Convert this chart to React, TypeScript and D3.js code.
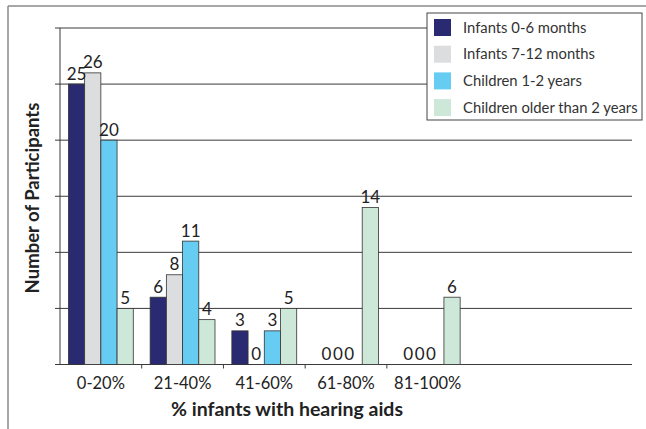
import React from "react";
import * as d3 from "d3";

const categories = ["0-20%", "21-40%", "41-60%", "61-80%", "81-100%", "", ""];
const seriesNames = ["Infants 0-6 months", "Infants 7-12 months", "Children 1-2 years", "Children older than 2 years"];
const infants0to6 = [25, 6, 3, 0, 0];
const infants7to12 = [26, 8, 0, 0, 0];
const children1to2 = [20, 11, 3, 0, 0];
const childrenOlder = [5, 4, 5, 14, 6];
const yTicks = [0, 5, 10, 15, 20, 25, 30];
const colors = ["#2a2a72", "#dcdddf", "#66ccf2", "#cde8d9"];

const W = 646;
const H = 429;
const FONT = "Lato, 'Open Sans', sans-serif";

export default function App() {
  const series = [infants0to6, infants7to12, children1to2, childrenOlder];
  const x0 = d3.scaleBand<string>().domain(categories.map((c, i) => String(i))).range([60, 632]).paddingInner(0).paddingOuter(0);
  const x1 = d3.scaleBand<number>().domain([0, 1, 2, 3]).range([0, x0.bandwidth()]).paddingOuter(0.52).paddingInner(0);
  const y = d3.scaleLinear().domain([0, 30]).range([364.5, 28]);

  const bars: React.ReactNode[] = [];
  const labels: React.ReactNode[] = [];
  series.forEach((vals, s) => {
    vals.forEach((v, i) => {
      const gx = x0(String(i)) as number;
      const bx = gx + (x1(s) as number);
      const bw = x1.bandwidth();
      const cx = bx + bw / 2;
      const refC = gx + (x1(1) as number) + bw / 2;
      const lx = v === 0 ? refC + (cx - refC) * 0.7 : cx;
      if (v > 0) {
        bars.push(
          <rect key={`b${s}-${i}`} x={bx} y={y(v)} width={bw} height={y(0) - y(v)} fill={colors[s]} stroke="#333" strokeWidth={0.8} />
        );
      }
      labels.push(
        <text key={`l${s}-${i}`} x={lx} y={y(v) - 4.5} textAnchor="middle" fontSize={17} fill="#222" fontFamily={FONT}>
          {v}
        </text>
      );
    });
  });

  return (
    <svg width={W} height={H} style={{ position: "absolute", left: 0, top: 0, background: "#fff" }}>
      <rect x={0} y={0} width={W} height={H} fill="#fff" />
      {/* outer frame */}
      <line x1={8} y1={6} x2={W} y2={6} stroke="#8a8a8a" strokeWidth={1.5} />
      <line x1={8} y1={6} x2={8} y2={H} stroke="#8a8a8a" strokeWidth={1.5} />
      {/* gridlines */}
      {yTicks.map((t) => (
        <line key={`g${t}`} x1={55} x2={632} y1={y(t)} y2={y(t)} stroke="#3a3a3a" strokeWidth={1} />
      ))}
      {/* y axis */}
      <line x1={60} x2={60} y1={y(30)} y2={y(0)} stroke="#3a3a3a" strokeWidth={1} />
      {/* x ticks between labelled categories */}
      {categories.slice(1, 5).map((c, k) => (
        <line key={`xt${k}`} x1={(x0(String(k + 1)) as number)} x2={(x0(String(k + 1)) as number)} y1={y(0)} y2={y(0) + 4} stroke="#3a3a3a" />
      ))}
      {bars}
      {labels}
      {categories.map((c, i) => (
        <text key={`xl${i}`} x={(x0(String(i)) as number) + x0.bandwidth() / 2} y={388.5} textAnchor="middle" fontSize={16.5} fill="#222" fontFamily={FONT}>
          {c}
        </text>
      ))}
      <text x={287} y={416} textAnchor="middle" fontSize={19.5} fontWeight="bold" fill="#222" fontFamily={FONT}>
        % infants with hearing aids
      </text>
      <text transform="translate(39,198) rotate(-90)" textAnchor="middle" fontSize={18.5} fontWeight="bold" fill="#222" fontFamily={FONT}>
        Number of Participants
      </text>
      {/* legend */}
      <rect x={427} y={13} width={215} height={107} fill="#fff" stroke="#444" strokeWidth={1} />
      {seriesNames.map((n, i) => (
        <g key={`lg${i}`}>
          <rect x={434} y={19 + i * 26.7} width={17} height={17} fill={colors[i]} />
          <text x={463} y={32.5 + i * 26.7} fontSize={14.8} fill="#333" fontFamily={FONT}>
            {n}
          </text>
        </g>
      ))}
    </svg>
  );
}
